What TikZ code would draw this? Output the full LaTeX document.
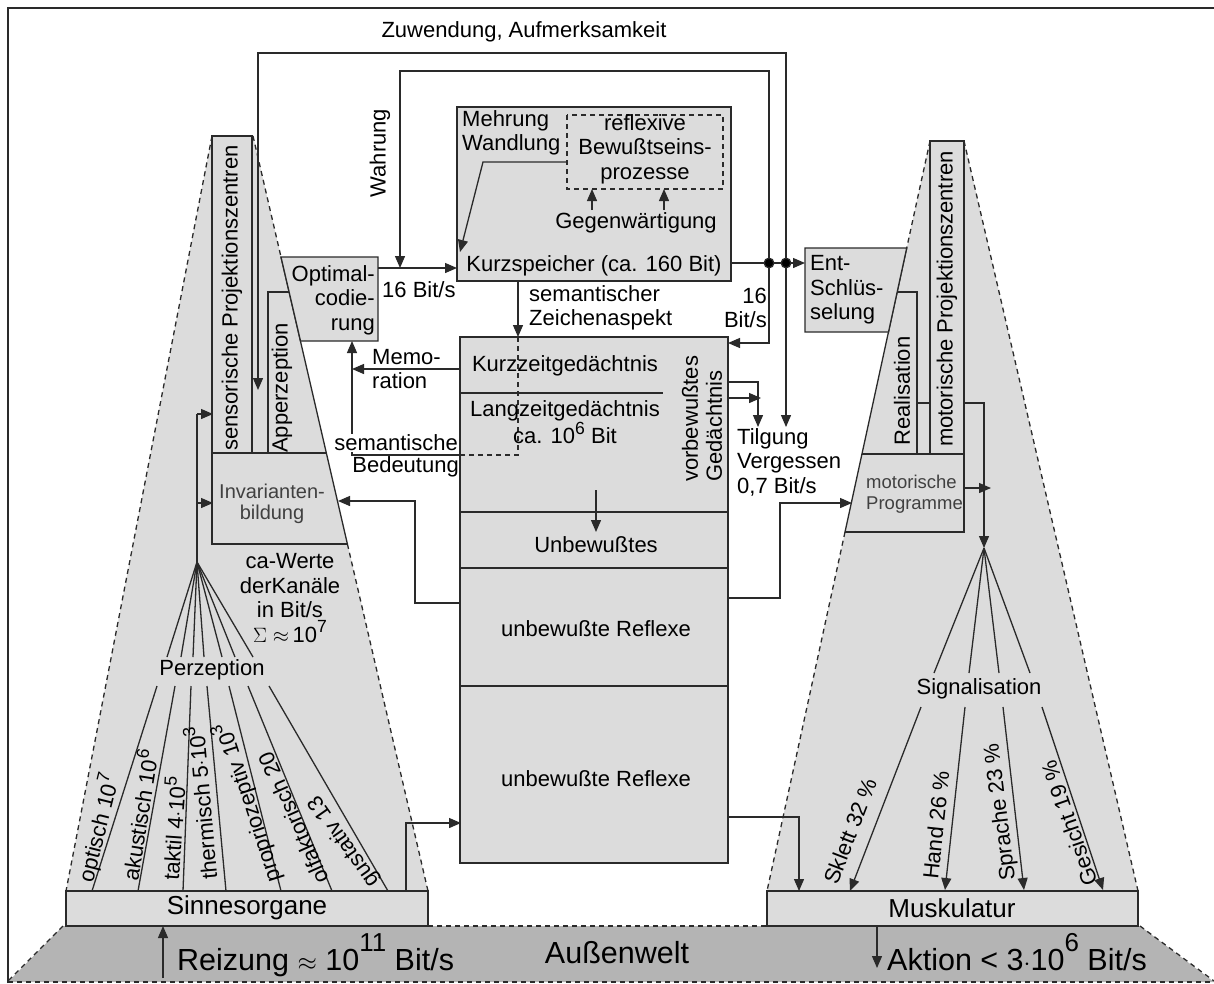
\documentclass[tikz,border=0pt]{standalone}
\usepackage{fontspec}
\setmainfont{Liberation Sans}
\usetikzlibrary{arrows.meta,calc}
\definecolor{lg}{HTML}{DCDCDC}
\definecolor{dg}{HTML}{B4B4B4}
\definecolor{ln}{HTML}{2A2A2A}
\newcommand\hoch[1]{\raisebox{0.42em}{\scalebox{0.8}{#1}}}
\newcommand\hochbig[1]{\raisebox{0.6em}{\scalebox{0.85}{#1}}}
\tikzset{
 ln/.style={draw=ln, line width=1.3pt},
 arr/.style={draw=ln, line width=1.3pt, -{Triangle[length=12pt,width=10pt]}},
 dsh/.style={draw=ln, line width=1.3pt, dash pattern=on 5pt off 4pt},
 txt/.style={font=\fontsize{22}{24.5}\selectfont, inner sep=0pt, text=black},
 mid/.style={font=\fontsize{26}{28}\selectfont, inner sep=0pt, text=black},
 sm/.style={font=\fontsize{18.5}{21}\selectfont, inner sep=0pt, text=black!75},
 smi/.style={font=\fontsize{20}{21}\selectfont, inner sep=0pt, text=black!75},
 big/.style={font=\fontsize{30.5}{32}\selectfont, inner sep=0pt, text=black},
 boxf/.style={fill=lg, draw=ln, line width=1.3pt},
}
\begin{document}
\begin{tikzpicture}[x=1pt,y=-1pt]
\useasboundingbox (0,0) rectangle (1214,983);
\fill[white] (0,0) rectangle (1214,983);

% ---------- Aussenwelt band
\fill[dg] (63,926) -- (1140,926) -- (1214,982) -- (8,982) -- cycle;
\draw[dsh] (63,926) -- (8,981);
\draw[dsh] (1140,926) -- (1214,981);
\draw[dsh] (428,926) -- (767,926);
\draw[dsh] (8,982) -- (1214,982);
\draw[draw=ln, line width=1.6pt] (8,983) -- (8,8) -- (1214,8);

% ---------- left trapezoid (sensorisch)
\fill[lg] (212,136) -- (253,136) -- (428,891) -- (66,891) -- cycle;
\draw[dsh] (212,136) -- (66,891);
\draw[dsh] (253,136) -- (281,257);
\draw[dsh] (347.4,544) -- (428,891);
\draw[ln] (281,257) -- (347.4,544);
\draw[ln] (212,136) rectangle (252,453);
\draw[ln] (268,453) -- (268,292) -- (289.1,292);
\draw[ln] (212,453) -- (326.6,453);
\draw[ln] (212,453) -- (212,544) -- (347.4,544);
\filldraw[boxf] (281,257) -- (378,257) -- (378,341) -- (300.5,341) -- cycle;

% ---------- right trapezoid (motorisch)
\fill[lg] (930,141) -- (964,141) -- (1138,891) -- (767,891) -- cycle;
\draw[dsh] (930,141) -- (906.7,248);
\draw[dsh] (845,532) -- (767,891);
\draw[dsh] (964,141) -- (1138,891);
\draw[ln] (906.7,248) -- (845,532);
\filldraw[boxf] (805,248) -- (906.7,248) -- (888.5,332) -- (805,332) -- cycle;
\draw[ln] (897.2,292) -- (917,292) -- (917,454);
\draw[ln] (930,454) -- (930,141) -- (964,141) -- (964,532) -- (845,532);
\draw[ln] (862,454) -- (964,454);

% ---------- boxes
\filldraw[boxf] (457,107) rectangle (731,281);
\draw[dsh] (567,115) rectangle (723,189);
\filldraw[boxf] (460,337) rectangle (728,863);
\draw[ln] (460,393) -- (663,393);
\draw[ln] (460,512) -- (728,512);
\draw[ln] (460,568) -- (728,568);
\draw[ln] (460,686) -- (728,686);
\filldraw[boxf] (66,891) rectangle (428,926);
\filldraw[boxf] (767,891) rectangle (1138,926);

% ---------- coordinates
\coordinate (ksR) at (731,263);
\coordinate (d1) at (769,263);
\coordinate (d2) at (786,263);
\coordinate (entL) at (805,263);
\coordinate (zuTop) at (786,53);
\coordinate (zuL) at (258,53);
\coordinate (zuEnd) at (258,390);
\coordinate (waTop) at (769,71);
\coordinate (waL) at (400,71);
\coordinate (waEnd) at (400,268);
\coordinate (optR) at (378,268);
\coordinate (ksL) at (457,268);
\coordinate (P) at (197,562);
\coordinate (J) at (984,548);

% ---------- connectors top
\draw[arr] (d2) -- (zuTop) -- (zuL) -- (zuEnd);
\draw[arr] (d2) -- (786,427);
\draw[arr] (d1) -- (waTop) -- (waL) -- (waEnd);
\draw[arr] (d1) -- (769,343) -- (728,343);
\draw[arr] (ksR) -- (entL);
\fill[ln] (d1) circle (4.8);
\fill[ln] (d2) circle (4.8);
\draw[arr] (optR) -- (ksL);
\draw[arr] (567,162) -- (483,162) -- (460,252);
\draw[arr] (592,210) -- (592,189);
\draw[arr] (664,210) -- (664,189);
\draw[arr] (518,281) -- (518,337);
\draw[dsh] (518,337) -- (518,455) -- (460,455);
\draw[arr] (460,455) -- (352,455) -- (352,341);
\draw[arr] (460,369) -- (352,369);
\draw[arr] (460,603) -- (415,603) -- (415,501) -- (338,501);
\draw[arr] (596,490) -- (596,532);
\draw[arr] (728,382) -- (758,382) -- (758,427);
\draw[arr] (728,398) -- (761,398);
\draw[arr] (728,598) -- (780,598) -- (780,503) -- (852,503);
\draw[arr] (728,817) -- (799,817) -- (799,891);
\draw[arr] (406,891) -- (406,823) -- (461,823);
\draw[ln] (917,403) -- (930,403);
\draw[arr] (964,403) -- (984,403) -- (J);
\draw[arr] (964,488) -- (991,488);

% ---------- Perzeption fan
\draw[ln] (P) -- (197,414);
\draw[arr] (197,414) -- (213,414);
\draw[arr] (197,503) -- (213,503);
\foreach \x in {167,181,193,204,222,235,253} \draw[ln] (P) -- (\x,657);
\foreach \a/\b in {157/92,175/138,191/183,207/226,229/281,248/332,269/388}
  \draw[ln] (\a,686) -- (\b,891);

% ---------- Signalisation fan
\foreach \x in {934,969,999,1030} \draw[ln] (J) -- (\x,673);
\draw[arr] (921,707) -- (850,891);
\draw[arr] (965,707) -- (945,890);
\draw[arr] (1003,707) -- (1024,890);
\draw[arr] (1042,707) -- (1103,890);

% ---------- bottom arrows
\draw[arr] (163,978) -- (163,926);
\draw[arr] (877,926) -- (877,968);

% ---------- texts
\node[txt] (tzu) at (524,32) {Zuwendung, Aufmerksamkeit};
\node[txt, rotate=90] (twa) at (380,153) {Wahrung};
\node[txt, anchor=west, align=left] (tme) at (462,133) {Mehrung\\Wandlung};
\node[txt, align=center] (tre) at (645,149) {reflexive\\Bewußtseins-\\prozesse};
\node[txt] (tge) at (636,223) {Gegenwärtigung};
\node[txt] (tks) at (594,266) {Kurzspeicher (ca. 160 Bit)};
\node[txt, anchor=west] (t16a) at (382,290) {16 Bit/s};
\node[txt, anchor=west, align=left] (tsz) at (529,308) {semantischer\\Zeichenaspekt};
\node[txt, anchor=east, align=right] (t16b) at (767,308) {16\\Bit/s};
\node[txt, anchor=east, align=right] (top) at (375,300) {Optimal-\\codie-\\rung};
\node[txt, anchor=west, align=left] (tmem) at (372,369) {Memo-\\ration};
\node[txt, fill=white, inner sep=1pt, anchor=east] (tsb1) at (459,443) {semantische};
\node[txt, anchor=east] (tsb2) at (459,467) {Bedeutung};
\node[txt, rotate=90] (tsp) at (232,298) {sensorische Projektionszentren};
\node[txt, rotate=90] (tap) at (282,388) {Apperzeption};
\node[smi, align=center] (tinv) at (272,504) {Invarianten-\\bildung};
\node[txt, align=center] (tca) at (290,598) {ca-Werte\\derKanäle\\in Bit/s\\$\Sigma\approx$\,10\hoch{7}};
\node[txt] (tpe) at (212,670) {Perzeption};
\node[txt] (tkz) at (565,366) {Kurzzeitgedächtnis};
\node[txt, align=center] (tlz) at (565,422) {Langzeitgedächtnis\\ca. 10\hoch{6} Bit};
\node[txt, rotate=90, anchor=west] (tvb1) at (690,482) {vorbewußtes};
\node[txt, rotate=90, anchor=west] (tvb2) at (714,482) {Gedächtnis};
\node[txt] (tub) at (596,545) {Unbewußtes};
\node[txt] (tur1) at (596,629) {unbewußte Reflexe};
\node[txt] (tur2) at (596,779) {unbewußte Reflexe};
\node[txt, anchor=west, align=left] (ttg) at (737,462) {Tilgung\\Vergessen\\0,7 Bit/s};
\node[txt, anchor=west, align=left] (tent) at (810,290) {Ent-\\Schlüs-\\selung};
\node[txt, rotate=90] (trl) at (902,391) {Realisation};
\node[txt, rotate=90] (tmp) at (947,299) {motorische Projektionszentren};
\node[sm, anchor=west, align=left] (tmpr) at (866,494) {motorische\\Programme};
\node[txt] (tsig) at (979,689) {Signalisation};
\node[txt, rotate=69] (tsk) at (850,831) {Sklett 32 \%};
\node[txt, rotate=84] (tha) at (936,825) {Hand 26 \%};
\node[txt, rotate=97] (tspr) at (1001,812) {Sprache 23 \%};
\node[txt, rotate=109] (tgs) at (1069,823) {Gesicht 19 \%};
\node[mid] (tmu) at (952,908) {Muskulatur};
\node[mid] (tsi) at (247,908) {Sinnesorgane};
\node[txt, rotate=76] (f1) at (98,828) {optisch 10\hoch{7}};
\node[txt, rotate=81] (f2) at (138,815) {akustisch 10\hoch{6}};
\node[txt, rotate=86] (f3) at (172,828) {taktil 4$\cdot$10\hoch{5}};
\node[txt, rotate=95] (f4) at (200,803) {thermisch 5$\cdot$10\hoch{3}};
\node[txt, rotate=108] (f5) at (247,803) {propriozeptiv 10\hoch{3}};
\node[txt, rotate=114] (f6) at (293,818) {olfaktorisch 20};
\node[txt, rotate=125] (f7) at (344,841) {gustativ 13};
\node[big, anchor=base west] (trz) at (177,970) {Reizung $\approx$ 10\hochbig{11} Bit/s};
\node[big, anchor=base] (tau) at (617,963) {Außenwelt};
\node[big, anchor=base west] (tak) at (887,970) {Aktion < 3$\cdot$10\hochbig{6} Bit/s};
\end{tikzpicture}
\end{document}
